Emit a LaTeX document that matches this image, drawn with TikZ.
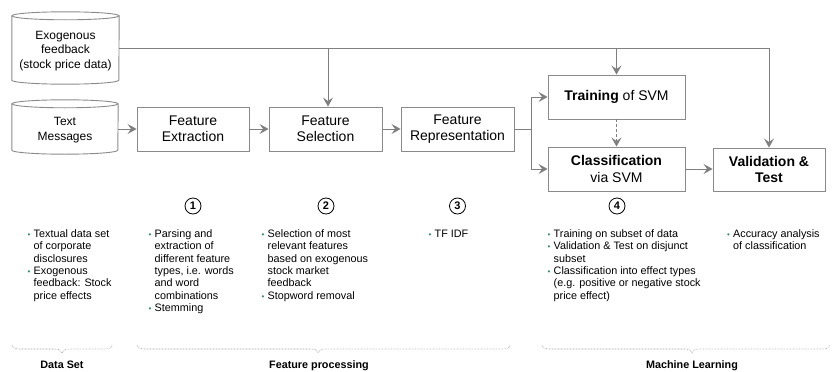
\documentclass[tikz,border=0pt]{standalone}
\usepackage{fontspec}
\setmainfont{Liberation Sans}
\usetikzlibrary{arrows.meta,calc}
\definecolor{lgray}{HTML}{7F7F7F}
\definecolor{bgray}{HTML}{8A8A8A}
\definecolor{brgray}{HTML}{A0A0A0}
\definecolor{bgreen}{HTML}{3A8A6A}
\newcommand\bl{\makebox[6pt][l]{\textcolor{bgreen}{\fontsize{8}{8}\selectfont •}}}
\newcommand\drawcyl[2]{%
  \draw[cylline] ($(#1.north west)+(0pt,-4pt)$) -- ($(#1.south west)+(0pt,4pt)$)
    arc[start angle=180,end angle=360,x radius=#2,y radius=4pt]
    -- ($(#1.north east)+(0pt,-4pt)$);
  \draw[cylline] ($(#1.north)+(0pt,-4pt)$) ellipse[x radius=#2,y radius=4pt];}
% dotted curly brace: left end, tip, right end (x values), baseline y=349
\newcommand\gbrace[3]{%
  \draw[brace] (#1,345) .. controls (#1+1,348.5) and (#1+3,349) .. (#1+9,349)
    -- (#2-8,349) .. controls (#2-3,349) and (#2-0.5,350) .. (#2,353)
    .. controls (#2+0.5,350) and (#2+3,349) .. (#2+8,349)
    -- (#3-9,349) .. controls (#3-3,349) and (#3-1,348.5) .. (#3,345);}
\begin{document}
\begin{tikzpicture}[x=1pt,y=-1pt,
  box/.style={draw=bgray, line width=0.9pt, minimum height=44pt, inner sep=0pt,
    align=center, font=\fontsize{14}{16.5}\selectfont},
  cylshape/.style={inner sep=0pt, draw=none},
  cylline/.style={draw=bgray, line width=0.9pt},
  cyltext/.style={inner sep=0pt, align=center, font=\fontsize{12}{14.5}\selectfont},
  conn/.style={draw=lgray, line width=1pt, -{Stealth[length=9pt,width=10pt,inset=3.5pt]}},
  plain/.style={draw=lgray, line width=1pt},
  num/.style={circle, draw=black, line width=0.8pt, minimum size=16pt, inner sep=0pt,
    font=\fontsize{11}{11}\selectfont\bfseries},
  lst/.style={anchor=base west, inner sep=0pt, font=\fontsize{10.8}{12.3}\selectfont},
  brace/.style={draw=brgray, line width=0.6pt, dash pattern=on 0.6pt off 0.9pt},
  grp/.style={anchor=base, inner sep=0pt, font=\fontsize{10.8}{12}\selectfont\bfseries}
]
\useasboundingbox (0,0) rectangle (835,372);

% cylinders
\node[cylshape, minimum width=107pt, minimum height=72pt] (exo) at (65.5,48) {};
\drawcyl{exo}{53.5pt}
\node[cyltext] (exot) at (65.5,51) {Exogenous\\feedback\\(stock price data)};
\node[cylshape, minimum width=106pt, minimum height=54pt] (txt) at (65,127) {};
\drawcyl{txt}{53pt}
\node[cyltext] (txtt) at (65,130) {Text\\Messages};

% boxes
\node[box, minimum width=112pt] (ext) at (193,129) {Feature\\Extraction};
\node[box, minimum width=113pt] (sel) at (325.5,129) {Feature\\Selection};
\node[box, minimum width=113pt] (rep) at (457.5,129) {Feature\\Representation};
\node[box, minimum width=137pt] (tra) at (616.5,97) {{\bfseries Training} of SVM};
\node[box, minimum width=137pt] (cla) at (616.5,169) {{\bfseries Classification}\\via SVM};
\node[box, minimum width=112pt, minimum height=43pt] (val) at (769,169.5) {{\bfseries Validation \&}\\{\bfseries Test}};

% connectors
\coordinate (j1) at (328,48);
\coordinate (j2) at (616.5,48);
\coordinate (tc) at (769,48);
\coordinate (sp) at (531,129);
\draw[conn] (exo.east) -- (tc) -- (val.north);
\draw[conn] (j1) -- (j1 |- sel.north);
\draw[conn] (j2) -- (tra.north);
\draw[conn] (txt.east |- ext.west) -- (ext.west);
\draw[conn] (ext.east) -- (sel.west);
\draw[conn] (sel.east) -- (rep.west);
\draw[plain] (rep.east) -- (sp);
\draw[conn] (sp) |- (tra.west);
\draw[conn] (sp) |- (cla.west);
\draw[conn, dash pattern=on 3pt off 2pt] (tra.south) -- (cla.north);
\draw[conn] (cla.east) -- (cla.east -| val.west);

% numbers
\node[num] (n1) at (193,206) {1};
\node[num] (n2) at (326,206) {2};
\node[num] (n3) at (457.5,206) {3};
\node[num] (n4) at (617,206) {4};

% lists
\node[lst] (l1) at (27.5,237.5) {\begin{tabular}[t]{@{}l@{}l@{}}\bl&Textual data set\\&of corporate\\&disclosures\\\bl&Exogenous\\&feedback: Stock\\&price effects\end{tabular}};
\node[lst] (l2) at (148.5,237.5) {\begin{tabular}[t]{@{}l@{}l@{}}\bl&Parsing and\\&extraction of\\&different feature\\&types, i.e. words\\&and word\\&combinations\\\bl&Stemming\end{tabular}};
\node[lst] (l3) at (261.5,237.5) {\begin{tabular}[t]{@{}l@{}l@{}}\bl&Selection of most\\&relevant features\\&based on exogenous\\&stock market\\&feedback\\\bl&Stopword removal\end{tabular}};
\node[lst] (l4) at (428.5,237.5) {\begin{tabular}[t]{@{}l@{}l@{}}\bl&TF IDF\end{tabular}};
\node[lst] (l5) at (547.5,237.5) {\begin{tabular}[t]{@{}l@{}l@{}}\bl&Training on subset of data\\\bl&Validation \& Test on disjunct\\&subset\\\bl&Classification into effect types\\&(e.g. positive or negative stock\\&price effect)\end{tabular}};
\node[lst] (l6) at (727,237.5) {\begin{tabular}[t]{@{}l@{}l@{}}\bl&Accuracy analysis\\&of classification\end{tabular}};

% braces
\gbrace{12}{62}{112}
\gbrace{137}{318}{510}
\gbrace{542}{692}{830}
\node[grp] (g1) at (62,368.5) {Data Set};
\node[grp] (g2) at (319,368.5) {Feature processing};
\node[grp] (g3) at (692,368.5) {Machine Learning};
\end{tikzpicture}
\end{document}
